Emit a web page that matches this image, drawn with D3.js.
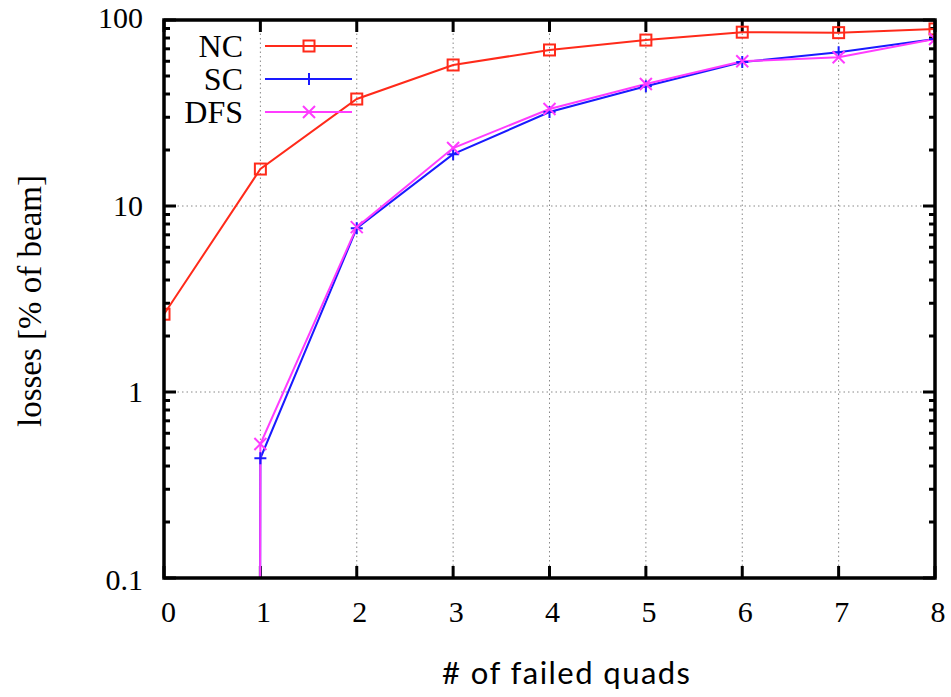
<!DOCTYPE html>
<html><head><meta charset="utf-8">
<script src="https://cdn.jsdelivr.net/npm/d3@7"></script>
<style>body{margin:0;background:#fff} .serif{font-family:"Liberation Serif","DejaVu Serif",serif}</style>
</head><body>
<svg id="c" width="951" height="697"></svg>
<script>
const xValues = [0,1,2,3,4,5,6,7,8];
const ncValues  = [2.62, 15.8, 37.6, 57.3, 69, 78, 86, 85.5, 89.5];
const scValues  = [1e-300, 0.44, 7.6, 19, 32, 44, 59.4, 67, 79];
const dfsValues = [1e-300, 0.525, 7.7, 20.5, 33.2, 45.3, 60, 63, 79];
const xTicks = [0,1,2,3,4,5,6,7,8];
const yTicks = [0.1,1,10,100];
const seriesNames = ["NC","SC","DFS"];

const svg = d3.select("#c");
const L=164, R=935, T=20, B=578;
const x = d3.scaleLinear().domain([0,8]).range([L,R]);
const y = d3.scaleLog().domain([0.1,100]).range([B,T]);

svg.append("defs").append("clipPath").attr("id","clip")
  .append("rect").attr("x",L).attr("y",T).attr("width",R-L).attr("height",B-T);

// grid
const g = svg.append("g");
g.selectAll(".gx").data(xTicks.filter(d=>d>0&&d<8)).join("line")
  .attr("x1",d=>x(d)).attr("x2",d=>x(d)).attr("y1",T).attr("y2",B)
  .attr("stroke","#888").attr("stroke-width",1).attr("stroke-dasharray","1.5,3");
g.selectAll(".gy").data(yTicks.filter(d=>d>0.1&&d<100)).join("line")
  .attr("x1",L).attr("x2",R).attr("y1",d=>y(d)).attr("y2",d=>y(d))
  .attr("stroke","#888").attr("stroke-width",1).attr("stroke-dasharray","1.5,3");

// ticks
const minor = [];
for (let dec of [0.1,1,10]) for (let k=2;k<=9;k++) minor.push(dec*k);
const tk = svg.append("g").attr("stroke","#000");
tk.selectAll(".mj").data(yTicks).join("line").attr("x1",L).attr("x2",L+12).attr("y1",d=>y(d)).attr("y2",d=>y(d)).attr("stroke-width",3);
tk.selectAll(".mj2").data(yTicks).join("line").attr("x1",R).attr("x2",R-12).attr("y1",d=>y(d)).attr("y2",d=>y(d)).attr("stroke-width",3);
tk.selectAll(".mn").data(minor).join("line").attr("x1",L).attr("x2",L+6).attr("y1",d=>y(d)).attr("y2",d=>y(d)).attr("stroke-width",3);
tk.selectAll(".mn2").data(minor).join("line").attr("x1",R).attr("x2",R-6).attr("y1",d=>y(d)).attr("y2",d=>y(d)).attr("stroke-width",3);
tk.selectAll(".xb").data(xTicks).join("line").attr("x1",d=>x(d)).attr("x2",d=>x(d)).attr("y1",B).attr("y2",B-12).attr("stroke-width",3);
tk.selectAll(".xt").data(xTicks).join("line").attr("x1",d=>x(d)).attr("x2",d=>x(d)).attr("y1",T).attr("y2",T+12).attr("stroke-width",3);

// tick labels
svg.append("g").selectAll("text").data(xTicks).join("text").attr("class","serif")
  .attr("x",d=>x(d)+ (d===0?4.5:3)).attr("y",B+44).attr("text-anchor","middle")
  .attr("font-size",30).text(d=>d);
svg.append("g").selectAll("text").data(yTicks).join("text").attr("class","serif")
  .attr("x",143).attr("y",d=>y(d)+(d===100?8:(d===0.1?12:10))).attr("text-anchor","end")
  .attr("font-size",30).text(d=>d);

// lines
const colors = {NC:"#ff2a1a", SC:"#1a1aff", DFS:"#ff3cff"};
const data = {NC:ncValues, SC:scValues, DFS:dfsValues};
const line = d3.line().x((d,i)=>x(xValues[i])).y(d=>y(d));
const plot = svg.append("g").attr("clip-path","url(#clip)");
function marker(sel, name, cx, cy){
  const c = colors[name];
  if (name==="NC") sel.append("rect").attr("x",cx-5.5).attr("y",cy-5.5).attr("width",11).attr("height",11).attr("fill","none").attr("stroke",c).attr("stroke-width",2);
  else if (name==="SC") sel.append("path").attr("d",`M${cx-6},${cy}H${cx+6}M${cx},${cy-6}V${cy+6}`).attr("stroke",c).attr("stroke-width",2);
  else sel.append("path").attr("d",`M${cx-6},${cy-6}L${cx+6},${cy+6}M${cx-6},${cy+6}L${cx+6},${cy-6}`).attr("stroke",c).attr("stroke-width",2);
}
seriesNames.forEach(name=>{
  plot.append("path").datum(data[name]).attr("d",line).attr("fill","none")
    .attr("stroke",colors[name]).attr("stroke-width",2);
});
seriesNames.forEach(name=>{
  const mg = plot.append("g");
  data[name].forEach((v,i)=>{ if (v>=0.1) marker(mg,name,x(xValues[i]),y(v)); });
});

// frame
svg.append("rect").attr("x",L).attr("y",T).attr("width",R-L).attr("height",B-T)
  .attr("fill","none").attr("stroke","#000").attr("stroke-width",3.5);

// legend
const lg = svg.append("g");
seriesNames.forEach((name,i)=>{
  const ly = 46 + i*33;
  lg.append("text").attr("class","serif").attr("x",243).attr("y",ly+11).attr("text-anchor","end")
    .attr("font-size",32).text(name);
  lg.append("line").attr("x1",265).attr("x2",352).attr("y1",ly).attr("y2",ly)
    .attr("stroke",colors[name]).attr("stroke-width",2);
  marker(lg,name,309,ly);
});

// axis titles
svg.append("text").attr("x",566).attr("y",684).attr("text-anchor","middle")
  .attr("font-family","Lato, 'Open Sans', sans-serif").attr("font-size",31)
  .attr("textLength",248).attr("lengthAdjust","spacing").text("# of failed quads");
svg.append("text").attr("class","serif").attr("transform","translate(41,301) rotate(-90)").attr("text-anchor","middle")
  .attr("font-size",33).text("losses [% of beam]");
</script>
</body></html>
